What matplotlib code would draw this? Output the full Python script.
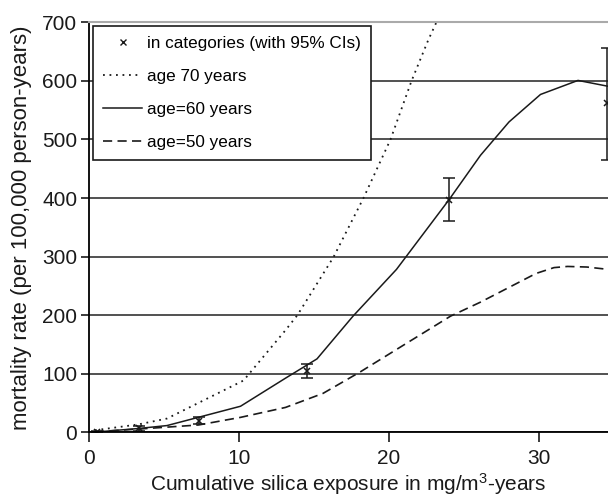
import matplotlib
matplotlib.use("Agg")
import matplotlib.pyplot as plt

plt.rcParams['font.family'] = ['Liberation Sans', 'DejaVu Sans']
plt.rcParams['mathtext.default'] = 'regular'

# Category estimates with 95% CIs
cat_x = [0.5, 3.3, 7.3, 14.5, 24.0, 34.5]
cat_y = [0, 6, 19, 105, 397, 563]
ci_lo = [0, 2, 14, 93, 360, 465]
ci_hi = [1, 10, 25, 117, 435, 657]

# age 70 years (dotted)
age70_x = [0.4, 3.3, 5.2, 10.3, 13.1, 13.9, 16.3, 18.3, 20.1, 21.5, 22.6, 23.6]
age70_y = [3, 13, 23, 88, 174, 200, 299, 400, 500, 600, 669, 725]

# age 60 years (solid)
age60_x = [0.5, 3.3, 5.2, 10.1, 13.1, 15.2, 17.6, 20.5, 24.0, 26.1, 28.0, 30.1, 32.6, 34.6]
age60_y = [0, 6, 11, 44, 92, 125, 198, 278, 397, 473, 530, 577, 601, 591]

# age 50 years (dashed)
age50_x = [0.4, 3.3, 7.3, 10.1, 13.1, 15.6, 18.1, 21.0, 24.1, 26.1, 29.8, 31.0, 31.9, 33.2, 34.6]
age50_y = [0.5, 5, 12, 25, 42, 66, 103, 149, 198, 222, 271, 281, 283, 282, 278]

x_ticks = [0, 10, 20, 30]
y_ticks = [0, 100, 200, 300, 400, 500, 600, 700]

fig = plt.figure(figsize=(6.08, 4.98), dpi=100)
ax = fig.add_axes([89/608, 1-432/498, 1-89/608, (432-22.5)/498])

lc = '#1a1a1a'
ax.plot(age70_x, age70_y, linestyle=(0, (1, 2.6)), color=lc, lw=1.3, label='age 70 years')
ax.plot(age60_x, age60_y, linestyle='-', color=lc, lw=1.1, label='age=60 years')
ax.plot(age50_x, age50_y, linestyle=(0, (5.5, 3.2)), color=lc, lw=1.2, label='age=50 years')

yerr = [[y - l for y, l in zip(cat_y, ci_lo)], [h - y for y, h in zip(cat_y, ci_hi)]]
ax.errorbar(cat_x, cat_y, yerr=yerr, fmt='x', color=lc, ms=5, mew=1.1,
            elinewidth=1.1, capsize=4, capthick=1.1,
            label='in categories (with 95% CIs)')

ax.set_xlim(0, 34.6)
ax.set_ylim(0, 700)
ax.set_xticks(x_ticks)
ax.set_yticks(y_ticks)
ax.yaxis.grid(True, color='#333333', lw=1.2)
ax.set_axisbelow(True)

ax.spines['right'].set_visible(False)
ax.spines['top'].set_color('#aaaaaa')
ax.spines['top'].set_linewidth(1.5)
ax.spines['left'].set_linewidth(1.3)
ax.spines['bottom'].set_linewidth(1.3)

ax.tick_params(axis='x', direction='out', length=7, width=1.2, pad=5.5, labelsize=15, colors='#1a1a1a')
ax.tick_params(axis='y', direction='out', length=5.5, width=1.2, pad=3, labelsize=15, colors='#1a1a1a')

ax.set_xlabel('Cumulative silica exposure in mg/m$^3$-years', fontsize=15, color='#1a1a1a')
ax.xaxis.set_label_coords(0.5, -0.096)
ax.set_ylabel('mortality rate (per 100,000 person-years)', fontsize=16, color='#1a1a1a')
ax.yaxis.set_label_coords(-0.11, 0.5)

handles, labels = ax.get_legend_handles_labels()
cat_handle = plt.Line2D([], [], marker='x', linestyle='none', color=lc, ms=5, mew=1.0)
names = ['age 70 years', 'age=60 years', 'age=50 years']
hs = [cat_handle] + [handles[labels.index(n)] for n in names]
ls = ['in categories (with 95% CIs)'] + names
leg = ax.legend(hs, ls, loc='upper left', bbox_to_anchor=(0.007, 0.9915),
                frameon=True, fancybox=False, edgecolor='#1a1a1a', framealpha=1,
                fontsize=12.3, handlelength=2.3, handletextpad=0.3,
                labelspacing=1.05, borderpad=0.6, borderaxespad=0)
leg.get_frame().set_linewidth(1.2)

fig.savefig('out.png', dpi=100)
